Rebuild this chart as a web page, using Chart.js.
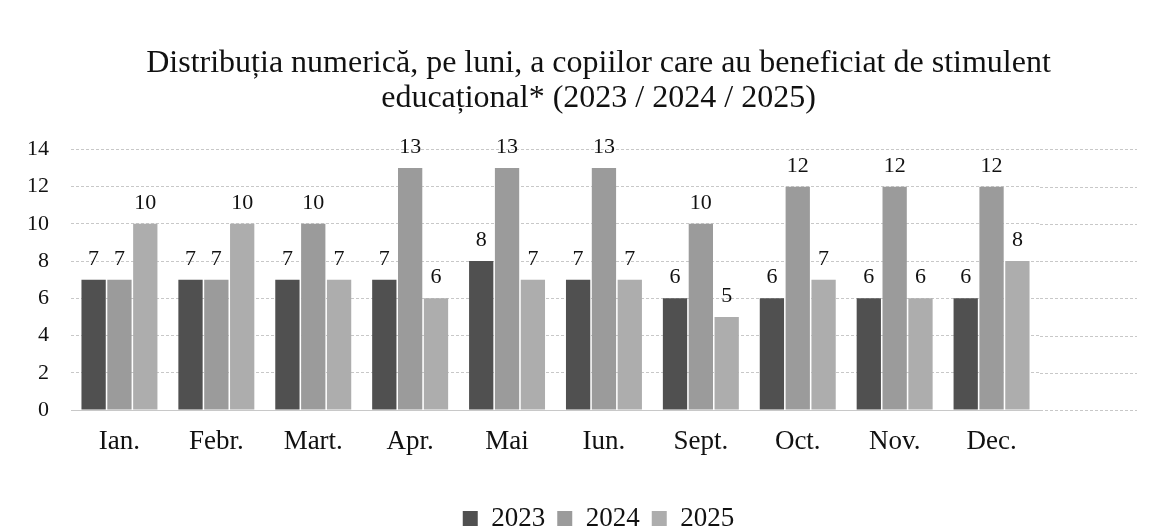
<!DOCTYPE html>
<html>
<head>
<meta charset="utf-8">
<script src="https://cdn.jsdelivr.net/npm/chart.js@4.4.1/dist/chart.umd.min.js"></script>
<style>
html,body{margin:0;padding:0;background:#fff;}
#wrap{width:1157px;height:530px;position:relative;}
</style>
</head>
<body>
<div id="wrap"><canvas id="c" width="1157" height="530"></canvas></div>
<script>
const categories = ['Ian.', 'Febr.', 'Mart.', 'Apr.', 'Mai', 'Iun.', 'Sept.', 'Oct.', 'Nov.', 'Dec.'];
const values2023 = [7, 7, 7, 7, 8, 7, 6, 6, 6, 6];
const values2024 = [7, 7, 10, 13, 13, 13, 10, 12, 12, 12];
const values2025 = [10, 10, 7, 6, 7, 7, 5, 7, 6, 8];
const seriesNames = ['2023', '2024', '2025'];
const yTicks = { min: 0, max: 14, step: 2 };
const titleLines = ['Distribuția numerică, pe luni, a copiilor care au beneficiat de stimulent', 'educațional* (2023 / 2024 / 2025)'];

const FONT = "'Liberation Serif', 'Times New Roman', serif";

const valueLabels = {
  id: 'valueLabels',
  afterDatasetsDraw(chart) {
    const ctx = chart.ctx;
    ctx.save();
    ctx.font = '22px ' + FONT;
    ctx.fillStyle = '#111';
    ctx.textAlign = 'center';
    ctx.textBaseline = 'alphabetic';
    chart.data.datasets.forEach((ds, i) => {
      const meta = chart.getDatasetMeta(i);
      meta.data.forEach((bar, j) => {
        ctx.fillText(String(ds.data[j]), bar.x, bar.y - 15);
      });
    });
    ctx.restore();
  }
};

const extendGrid = {
  id: 'extendGrid',
  beforeDatasetsDraw(chart) {
    const ctx = chart.ctx;
    const ys = chart.scales.y;
    const area = chart.chartArea;
    ctx.save();
    ctx.strokeStyle = '#c8c8c8';
    ctx.lineWidth = 1;
    ctx.setLineDash([3, 2]);
    ys.ticks.forEach((t) => {
      const y = Math.round(ys.getPixelForValue(t.value)) + 0.5;
      ctx.beginPath();
      ctx.moveTo(area.right, y);
      ctx.lineTo(1137, y);
      ctx.stroke();
    });
    ctx.restore();
  }
};

new Chart(document.getElementById('c'), {
  type: 'bar',
  data: {
    labels: categories,
    datasets: [
      { label: seriesNames[0], data: values2023, backgroundColor: '#505050' },
      { label: seriesNames[1], data: values2024, backgroundColor: '#9b9b9b' },
      { label: seriesNames[2], data: values2025, backgroundColor: '#adadad' }
    ]
  },
  options: {
    responsive: false,
    animation: false,
    layout: { padding: { left: 24, right: -16, top: 12, bottom: -12 } },
    datasets: { bar: { categoryPercentage: 0.8, barPercentage: 0.94 } },
    scales: {
      x: {
        grid: { display: false, drawTicks: false },
        border: { display: true, color: '#c8c8c8' },
        ticks: { color: '#111', font: { family: FONT, size: 27 }, padding: 16 },
        afterFit(scale) { scale.height = 83; }
      },
      y: {
        min: yTicks.min, max: yTicks.max,
        ticks: { stepSize: yTicks.step, color: '#111', font: { family: FONT, size: 22 }, padding: 22 },
        grid: { color: '#c8c8c8', drawTicks: false },
        border: { display: false, dash: [3, 2] },
        afterFit(scale) { scale.width = 47; }
      },
      y2: {
        position: 'right',
        display: true,
        grid: { display: false, drawTicks: false },
        border: { display: false },
        ticks: { display: false },
        afterFit(scale) { scale.width = 133; }
      }
    },
    plugins: {
      title: {
        display: true,
        text: titleLines,
        color: '#111',
        font: { family: FONT, size: 32, weight: 'normal', lineHeight: 1.1 },
        padding: { top: 34, bottom: 33 }
      },
      legend: {
        position: 'bottom',
        labels: {
          color: '#111',
          font: { family: FONT, size: 27 },
          boxWidth: 15, boxHeight: 15, padding: 12
        }
      },
      tooltip: { enabled: false }
    }
  },
  plugins: [valueLabels, extendGrid]
});
</script>
</body>
</html>
